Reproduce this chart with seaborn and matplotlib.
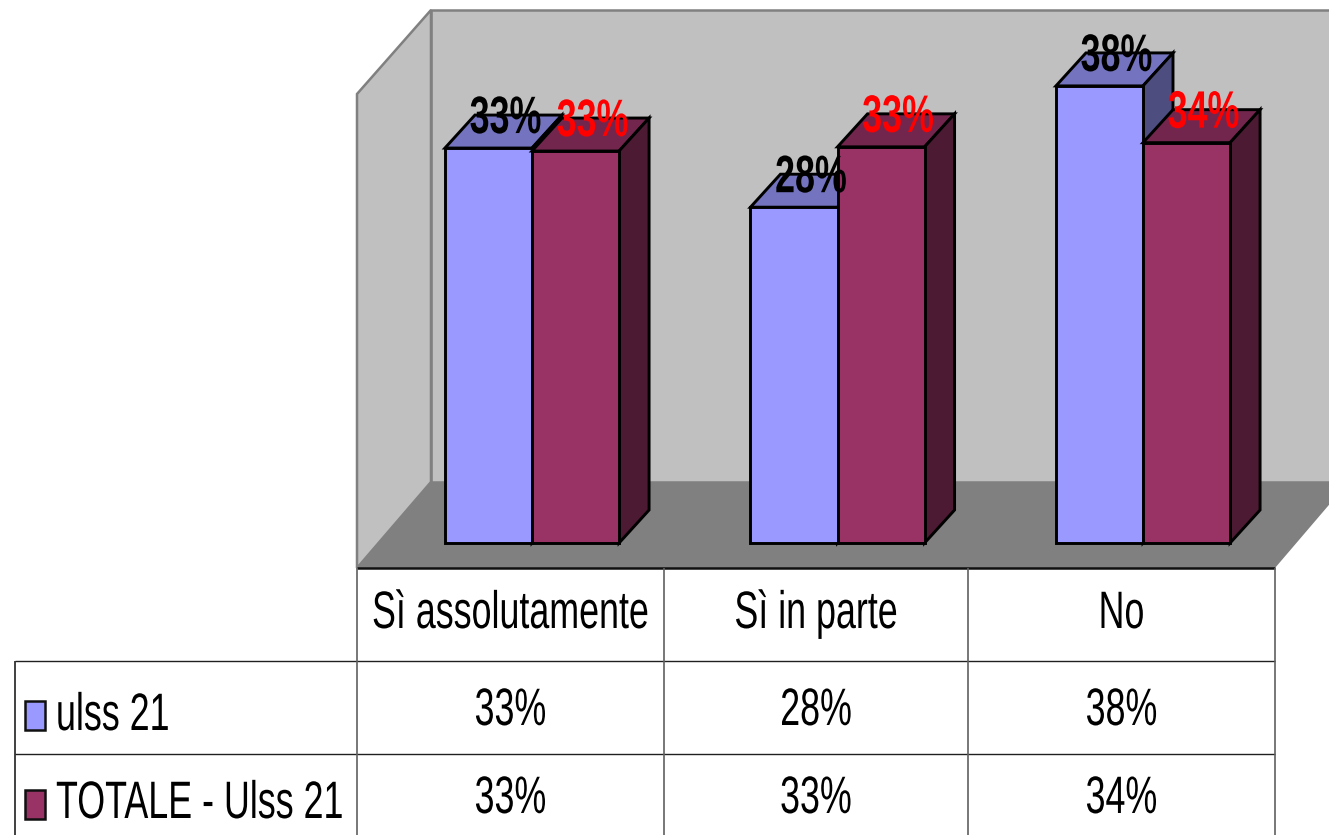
import matplotlib
matplotlib.use("Agg")
import matplotlib.pyplot as plt
import matplotlib.patheffects as pe
from matplotlib.patches import Polygon, Rectangle
from matplotlib.transforms import Affine2D
from matplotlib.colors import to_rgb
import pandas as pd
import seaborn as sns

categories = ["Sì assolutamente", "Sì in parte", "No"]
series_names = ["ulss 21", "TOTALE - Ulss 21"]
ulss_values = [33.05, 28.1, 38.25]
totale_values = [32.8, 33.15, 33.5]
series_colors = ["#9999FF", "#993366"]
label_colors = ["black", "red"]

W, H = 1329, 835
DEPTH_X_PX, DEPTH_Y_PX = 30, 33
PX_PER_UNIT = 11.95
CATEGORY_PX = 305.5
FS = 25.8          # sets the text's width
TALL = 1.47        # the original glyphs are condensed: same width, taller


class Tall(pe.AbstractPathEffect):
    """Stretch glyphs upward from the baseline, giving the condensed look of the original."""
    def __init__(self, sy=TALL):
        super().__init__()
        self.sy = sy

    def draw_path(self, renderer, gc, tpath, affine, rgbFace=None):
        renderer.draw_path(gc, tpath, Affine2D().scale(1, self.sy) + affine, rgbFace)


sns.set_theme(style="white")
plt.rcParams["font.family"] = ["Liberation Sans", "DejaVu Sans"]

df = pd.DataFrame({
    "Risposta": categories * 2,
    "Serie": [series_names[0]] * 3 + [series_names[1]] * 3,
    "Valore": ulss_values + totale_values,
})

fig = plt.figure(figsize=(W / 100, H / 100), dpi=100, facecolor="white")

# Pixel-space canvas for walls, floor and data table
bg = fig.add_axes([0, 0, 1, 1])
bg.set_xlim(0, W)
bg.set_ylim(H, 0)
bg.axis("off")

WALL, FLOOR, EDGE = "#C0C0C0", "#808080", "#808080"
bg.add_patch(Polygon([(431, 10), (W + 5, 10), (W + 5, 482), (431, 482)], fc=WALL, ec=EDGE, lw=1.8))
bg.add_patch(Polygon([(357, 94), (431, 10), (431, 482), (357, 568)], fc=WALL, ec=EDGE, lw=1.8))
bg.add_patch(Polygon([(357, 568), (431, 482), (W + 5, 482), (W + 5, 499), (1275, 568)], fc=FLOOR, ec="none"))

# Table grid
col_edges = [357, 664, 968, 1275]
row_edges = [568, 661, 754]
LEFT = 15
bg.plot([357, 1275], [568, 568], color="#101010", lw=1.8, solid_capstyle="butt")
for y in row_edges[1:]:
    bg.plot([LEFT, 1275], [y, y], color="#202020", lw=1.0, solid_capstyle="butt")
for x in col_edges:
    bg.plot([x, x], [568, H], color="#606060", lw=1.2, solid_capstyle="butt")
bg.plot([LEFT, LEFT], [661, H], color="#202020", lw=1.2, solid_capstyle="butt")

# Table texts
centers = [(a + b) / 2 for a, b in zip(col_edges[:-1], col_edges[1:])]
for c, name in zip(centers, categories):
    bg.text(c, 628, name, ha="center", va="baseline", fontsize=FS, color="black",
            path_effects=[Tall()])
baselines = [725, 813]
swatch_tops = [701, 790]
for b, top, name, color, vals in zip(baselines, swatch_tops, series_names, series_colors,
                                     [ulss_values, totale_values]):
    bg.add_patch(Rectangle((25, top), 20, 29, fc=color, ec="#101010", lw=1.8))
    bg.text(56, b + 5, name, ha="left", va="baseline", fontsize=FS, color="black",
            path_effects=[Tall()])
    for c, v in zip(centers, vals):
        bg.text(c, b, f"{v:.0f}%", ha="center", va="baseline", fontsize=FS, color="black",
                path_effects=[Tall()])

# Bars: seaborn draws the front faces on axes scaled to the data
ax_left = 532 - CATEGORY_PX / 2
ax_right = ax_left + 3 * CATEGORY_PX
ax = fig.add_axes([ax_left / W, (H - 543) / H, (ax_right - ax_left) / W, 543 / H])
ax.patch.set_alpha(0)
sns.barplot(data=df, x="Risposta", y="Valore", hue="Serie", palette=series_colors,
            width=0.57, gap=0, saturation=1, edgecolor="black", linewidth=2.1,
            legend=False, ax=ax, clip_on=False)
ax.set_xlim(-0.5, 2.5)
ax.set_ylim(0, 543 / PX_PER_UNIT)
ax.axis("off")

dx = DEPTH_X_PX / CATEGORY_PX
dy = DEPTH_Y_PX / PX_PER_UNIT


def shade(color, f):
    return tuple(c * f for c in to_rgb(color))


for s, (container, color, lcolor) in enumerate(zip(ax.containers, series_colors, label_colors)):
    for bar in container:
        x0, w, h = bar.get_x(), bar.get_width(), bar.get_height()
        x1 = x0 + w
        z = 3 + s
        bar.set_zorder(z + 0.2)
        bar.set_clip_on(False)
        ax.add_patch(Polygon([(x0, h), (x1, h), (x1 + dx, h + dy), (x0 + dx, h + dy)],
                             fc=shade(color, 0.75), ec="black", lw=2.1, joinstyle="miter",
                             zorder=z, clip_on=False))
        ax.add_patch(Polygon([(x1, 0), (x1 + dx, dy), (x1 + dx, h + dy), (x1, h)],
                             fc=shade(color, 0.5), ec="black", lw=2.1, joinstyle="miter",
                             zorder=z, clip_on=False))
        ax.annotate(f"{h:.0f}%", xy=(x0 + w / 2, h), xytext=(17 * 0.72, 15 * 0.72),
                    textcoords="offset points", ha="center", va="baseline",
                    fontsize=FS, fontweight="bold", color=lcolor, zorder=10,
                    annotation_clip=False, path_effects=[Tall()])

fig.savefig("out.png", dpi=100, facecolor="white")
